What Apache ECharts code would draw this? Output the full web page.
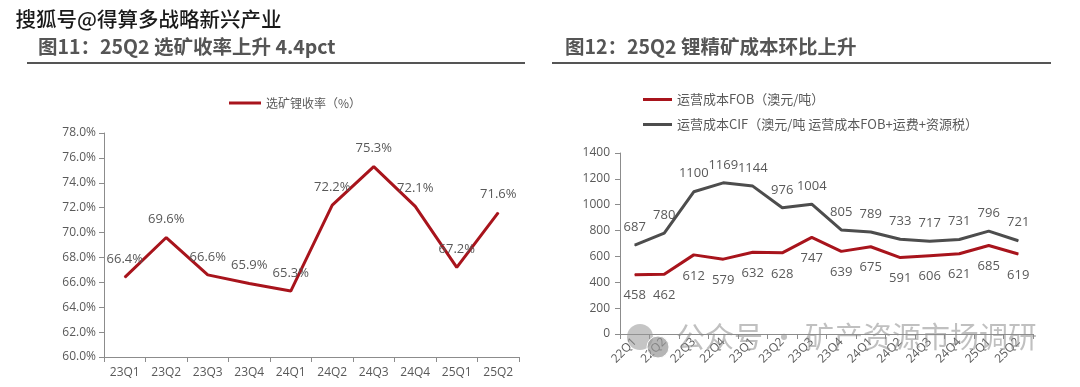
<!DOCTYPE html>
<html>
<head>
<meta charset="utf-8">
<script src="https://cdn.jsdelivr.net/npm/echarts@6/dist/echarts.min.js"></script>
<style>
html,body{margin:0;padding:0;background:#fff;}
#main{width:1080px;height:387px;}
</style>
</head>
<body>
<div id="main"></div>
<script>
// ---- data ----
const categoriesLeft = ['23Q1','23Q2','23Q3','23Q4','24Q1','24Q2','24Q3','24Q4','25Q1','25Q2'];
const recoveryRate = [66.4, 69.6, 66.6, 65.9, 65.3, 72.2, 75.3, 72.1, 67.2, 71.6];
const categoriesRight = ['22Q1','22Q2','22Q3','22Q4','23Q1','23Q2','23Q3','23Q4','24Q1','24Q2','24Q3','24Q4','25Q1','25Q2'];
const costFOB = [458, 462, 612, 579, 632, 628, 747, 639, 675, 591, 606, 621, 685, 619];
const costCIF = [687, 780, 1100, 1169, 1144, 976, 1004, 805, 789, 733, 717, 731, 796, 721];
const titleLeft = '图11：25Q2 选矿收率上升 4.4pct';
const titleRight = '图12：25Q2 锂精矿成本环比上升';
const nameLeft = '选矿锂收率（%）';
const nameFOB = '运营成本FOB（澳元/吨）';
const nameCIF = '运营成本CIF（澳元/吨 运营成本FOB+运费+资源税）';

const FONT = "'Open Sans','Noto Sans CJK SC',sans-serif";
const CJK = "'Noto Sans CJK SC','Open Sans',sans-serif";
const TXT = '#595959';
const AX = '#8c8c8c';
const RED = '#a8141c';
const GRAY = '#4d4d4d';

const chart = echarts.init(document.getElementById('main'), null, {renderer:'canvas'});

const axisCommon = {
  axisLine:{show:true, lineStyle:{color:AX, width:1}},
  axisTick:{show:true, length:5, lineStyle:{color:AX}},
  splitLine:{show:false},
  axisLabel:{color:TXT, fontSize:12, fontFamily:FONT}
};

chart.setOption({
  animation:false,
  backgroundColor:'#fff',
  grid:[
    {left:104, top:133, width:415, height:224},
    {left:620, top:153, width:413, height:181}
  ],
  legend:[
    {
      data:[nameLeft], left:229, top:97, padding:0, itemWidth:32, itemHeight:3, icon:'rect',
      textStyle:{color:TXT, fontSize:12, fontFamily:CJK}
    },
    {
      data:[nameFOB, nameCIF], orient:'vertical', left:643, top:91, padding:0, itemWidth:29, itemHeight:3, icon:'rect',
      itemGap:8, textStyle:{color:TXT, fontSize:13, fontFamily:CJK, lineHeight:17}
    }
  ],
  xAxis:[
    Object.assign({}, axisCommon, {
      type:'category', gridIndex:0, data:categoriesLeft, boundaryGap:true,
      axisLabel:{color:TXT, fontSize:12, fontFamily:FONT, margin:10}
    }),
    Object.assign({}, axisCommon, {
      type:'category', gridIndex:1, data:categoriesRight, boundaryGap:true,
      axisLabel:{color:TXT, fontSize:12, fontFamily:FONT, rotate:45, margin:6, interval:0}
    })
  ],
  yAxis:[
    Object.assign({}, axisCommon, {
      type:'value', gridIndex:0, min:60, max:78, interval:2,
      axisLabel:{color:TXT, fontSize:12, fontFamily:FONT, margin:8, formatter:v=>v.toFixed(1)+'%'}
    }),
    Object.assign({}, axisCommon, {
      type:'value', gridIndex:1, min:0, max:1400, interval:200,
      axisLabel:{color:TXT, fontSize:12, fontFamily:FONT, margin:10, formatter:v=>String(v)}
    })
  ],
  series:[
    {
      name:nameLeft, type:'line', xAxisIndex:0, yAxisIndex:0, data:recoveryRate,
      symbol:'circle', symbolSize:1, showSymbol:true, lineStyle:{color:RED, width:3}, itemStyle:{color:RED},
      label:{show:true, position:'top', distance:11, color:TXT, fontSize:13, fontFamily:FONT, formatter:p=>p.value.toFixed(1)+'%'}
    },
    {
      name:nameFOB, type:'line', xAxisIndex:1, yAxisIndex:1, data:costFOB,
      symbol:'circle', symbolSize:1, showSymbol:true, lineStyle:{color:RED, width:3}, itemStyle:{color:RED},
      label:{show:true, position:'bottom', distance:14, color:TXT, fontSize:13, fontFamily:FONT}
    },
    {
      name:nameCIF, type:'line', xAxisIndex:1, yAxisIndex:1, data:costCIF,
      symbol:'circle', symbolSize:1, showSymbol:true, lineStyle:{color:GRAY, width:3}, itemStyle:{color:GRAY},
      label:{show:true, position:'top', distance:11, color:TXT, fontSize:13, fontFamily:FONT}
    }
  ],
  graphic:[
    {type:'text', left:15, top:8, style:{text:'搜狐号@得算多战略新兴产业', fill:'#1a1a1a', font:"500 20.5px 'Noto Sans CJK SC'", stroke:'#fff', lineWidth:1}},
    {type:'text', left:38, top:37, style:{text:titleLeft, fill:'#555555', font:"bold 19.5px 'Noto Sans CJK SC'"}},
    {type:'text', left:565, top:37, style:{text:titleRight, fill:'#555555', font:"bold 19.5px 'Noto Sans CJK SC'"}},
    {type:'rect', shape:{x:27, y:62, width:498, height:2}, style:{fill:'#555555'}},
    {type:'rect', shape:{x:552, y:62, width:499, height:2}, style:{fill:'#555555'}},
    {type:'circle', shape:{cx:640, cy:337, r:13}, style:{fill:'rgba(150,150,150,0.55)'}, z:100},
    {type:'circle', shape:{cx:658, cy:347, r:11}, style:{fill:'rgba(150,150,150,0.7)', stroke:'#fff', lineWidth:1}, z:100},
    {type:'text', left:676, top:322, z:100, style:{text:'公众号 · 矿产资源市场调研', fill:'rgba(140,140,140,0.55)', font:"29px 'Noto Sans CJK SC'"}}
  ]
});
</script>
</body>
</html>
